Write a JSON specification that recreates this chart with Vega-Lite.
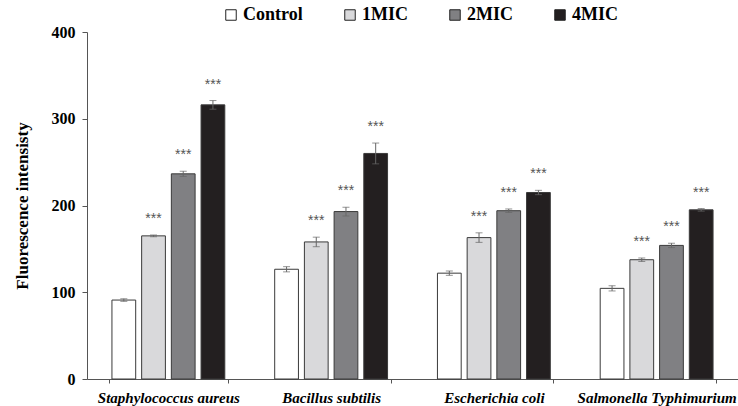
{
  "$schema": "https://vega.github.io/schema/vega-lite/v6.json",
  "autosize": {"type": "none"},
  "padding": {"left": 87, "top": 32, "right": 0, "bottom": 27},
  "width": 651,
  "height": 347,
  "background": "white",
  "config": {
    "view": {"stroke": null},
    "font": "Liberation Serif",
    "legend": {"labelFont": "Liberation Serif", "labelFontWeight": "bold", "labelFontSize": 18}
  },
  "data": {
    "values": [
      {"species": "Staphylococcus aureus", "group": "Control", "value": 91, "lo": 89.5, "hi": 92.5, "sig": ""},
      {"species": "Staphylococcus aureus", "group": "1MIC", "value": 165, "lo": 164, "hi": 166, "sig": "***"},
      {"species": "Staphylococcus aureus", "group": "2MIC", "value": 236.5, "lo": 233.5, "hi": 239.5, "sig": "***"},
      {"species": "Staphylococcus aureus", "group": "4MIC", "value": 316, "lo": 311, "hi": 321, "sig": "***"},
      {"species": "Bacillus subtilis", "group": "Control", "value": 126.5, "lo": 123.5, "hi": 129.5, "sig": ""},
      {"species": "Bacillus subtilis", "group": "1MIC", "value": 158, "lo": 152.5, "hi": 163.5, "sig": "***"},
      {"species": "Bacillus subtilis", "group": "2MIC", "value": 193, "lo": 188, "hi": 198, "sig": "***"},
      {"species": "Bacillus subtilis", "group": "4MIC", "value": 260, "lo": 248, "hi": 272, "sig": "***"},
      {"species": "Escherichia coli", "group": "Control", "value": 122, "lo": 119.5, "hi": 124.5, "sig": ""},
      {"species": "Escherichia coli", "group": "1MIC", "value": 163, "lo": 157.5, "hi": 168.5, "sig": "***"},
      {"species": "Escherichia coli", "group": "2MIC", "value": 194, "lo": 192, "hi": 196, "sig": "***"},
      {"species": "Escherichia coli", "group": "4MIC", "value": 215, "lo": 212.5, "hi": 217.5, "sig": "***"},
      {"species": "Salmonella Typhimurium", "group": "Control", "value": 104.5, "lo": 101.5, "hi": 107.5, "sig": ""},
      {"species": "Salmonella Typhimurium", "group": "1MIC", "value": 137.5, "lo": 135.5, "hi": 139.5, "sig": "***"},
      {"species": "Salmonella Typhimurium", "group": "2MIC", "value": 154, "lo": 151.5, "hi": 156.5, "sig": "***"},
      {"species": "Salmonella Typhimurium", "group": "4MIC", "value": 195, "lo": 193.5, "hi": 196.5, "sig": "***"}
    ]
  },
  "encoding": {
    "x": {
      "field": "species",
      "type": "nominal",
      "sort": null,
      "scale": {"paddingInner": 0.27, "paddingOuter": 0.135},
      "axis": {
        "title": null,
        "labelAngle": 0,
        "labelFont": "Liberation Serif",
        "labelFontSize": 15,
        "labelFontWeight": "bold",
        "labelFontStyle": "italic",
        "labelColor": "black",
        "labelPadding": 7,
        "tickBand": "extent",
        "tickSize": 4,
        "tickColor": "#555",
        "domainColor": "#555",
        "labelOverlap": false,
        "labelBound": false
      }
    },
    "xOffset": {
      "field": "group",
      "type": "nominal",
      "sort": ["Control", "1MIC", "2MIC", "4MIC"],
      "scale": {"paddingInner": 0.2, "paddingOuter": 0.1}
    }
  },
  "layer": [
    {
      "mark": {"type": "bar", "stroke": "#3a3a3a", "strokeWidth": 1},
      "encoding": {
        "y": {
          "field": "value",
          "type": "quantitative",
          "scale": {"domain": [0, 400]},
          "axis": {
            "title": "Fluorescence intensisty",
            "titleFont": "Liberation Serif",
            "titleFontSize": 17,
            "titleFontWeight": "bold",
            "titleColor": "black",
            "titlePadding": 20,
            "values": [0, 100, 200, 300, 400],
            "grid": false,
            "labelFont": "Liberation Serif",
            "labelFontSize": 16,
            "labelFontWeight": "bold",
            "labelColor": "black",
            "labelPadding": 7,
            "tickSize": 5,
            "tickColor": "#555",
            "domainColor": "#555"
          }
        },
        "fill": {
          "field": "group",
          "type": "nominal",
          "sort": ["Control", "1MIC", "2MIC", "4MIC"],
          "scale": {"domain": ["Control", "1MIC", "2MIC", "4MIC"], "range": ["#ffffff", "#d9d9db", "#808083", "#231f20"]},
          "legend": {
            "title": null,
            "orient": "none",
            "direction": "horizontal",
            "legendX": 135,
            "legendY": -26,
            "symbolType": "square",
            "symbolSize": 110,
            "symbolStrokeColor": "#222",
            "symbolStrokeWidth": 1,
            "labelFont": "Liberation Serif",
            "labelFontSize": 18,
            "labelFontWeight": "bold",
            "labelColor": "black",
            "labelOffset": 3,
            "columnPadding": 38
          }
        }
      }
    },
    {
      "mark": {"type": "rule", "color": "#666", "strokeWidth": 1},
      "encoding": {
        "y": {"field": "lo", "type": "quantitative"},
        "y2": {"field": "hi"}
      }
    },
    {
      "mark": {"type": "tick", "color": "#666", "size": 7, "thickness": 1},
      "encoding": {"y": {"field": "lo", "type": "quantitative"}}
    },
    {
      "mark": {"type": "tick", "color": "#666", "size": 7, "thickness": 1},
      "encoding": {"y": {"field": "hi", "type": "quantitative"}}
    },
    {
      "mark": {"type": "text", "font": "Liberation Sans", "fontSize": 14, "color": "#555", "baseline": "middle", "dy": -16},
      "encoding": {
        "y": {"field": "hi", "type": "quantitative"},
        "text": {"field": "sig"}
      }
    }
  ]
}
